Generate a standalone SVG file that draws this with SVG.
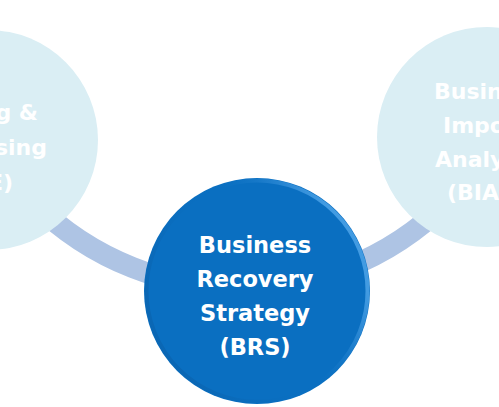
<svg xmlns="http://www.w3.org/2000/svg" width="499" height="407" viewBox="0 0 499 407">
<defs>
<linearGradient id="rim" x1="0.1" y1="0.7" x2="0.9" y2="0.3">
<stop offset="0" stop-color="#0a5fa8" stop-opacity="0.5"/>
<stop offset="0.55" stop-color="#0a6fc1" stop-opacity="0"/>
<stop offset="0.9" stop-color="#4aa0e6" stop-opacity="0.6"/>
<stop offset="1" stop-color="#5aaef0" stop-opacity="0.7"/>
</linearGradient>
<style>
.lc{fill:#daeef4}
.lt{fill:#ffffff;font-family:"DejaVu Sans",sans-serif;font-weight:bold;font-size:22px}
.ct{fill:#ffffff;font-family:"DejaVu Sans",sans-serif;font-weight:bold;font-size:22.5px;text-anchor:middle}
.ring{fill:none;stroke:#aec4e4;stroke-width:21}
</style>
</defs>
<rect width="499" height="407" fill="#ffffff"/>
<g id="connectors">
<circle class="ring" cx="240" cy="-4" r="292"/>
</g>
<g id="node-te">
<circle class="lc" cx="-12" cy="140" r="110"/>
<text class="lt" text-anchor="end" x="38" y="120">g &amp;</text>
<text class="lt" text-anchor="end" x="47" y="155">sing</text>
<text class="lt" text-anchor="end" x="13" y="190">E)</text>
</g>
<g id="node-bia">
<circle class="lc" cx="487" cy="137" r="110"/>
<text class="lt" x="434" y="99">Busin</text>
<text class="lt" x="443" y="133">Impo</text>
<text class="lt" x="435" y="167">Analy</text>
<text class="lt" x="447" y="200">(BIA</text>
</g>
<g id="node-brs">
<circle cx="257" cy="291" r="113" fill="#0a6fc1"/>
<circle cx="257" cy="291" r="110.5" fill="none" stroke="url(#rim)" stroke-width="4"/>
<text class="ct" x="255" y="253">Business</text>
<text class="ct" x="255" y="287">Recovery</text>
<text class="ct" x="255" y="321">Strategy</text>
<text class="ct" x="255" y="355">(BRS)</text>
</g>
</svg>
